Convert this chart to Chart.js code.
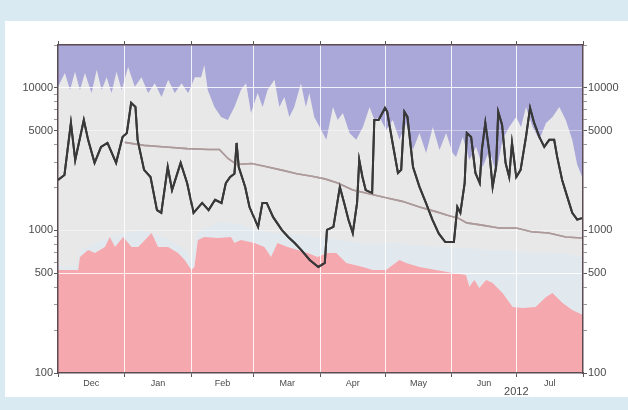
<!DOCTYPE html>
<html>
<head>
<meta charset="utf-8">
<script src="https://cdn.jsdelivr.net/npm/chart.js@4.4.1/dist/chart.umd.min.js"></script>
<style>
  html, body { margin: 0; padding: 0; width: 628px; height: 410px; overflow: hidden; background: #d9eaf3; }
  #panel { position: absolute; left: 5px; top: 21px; width: 623px; height: 376px; background: #ffffff; }
  #wrap { position: absolute; left: 0; top: 0; width: 628px; height: 410px; }
</style>
</head>
<body>
<div id="panel"></div>
<div id="wrap"><canvas id="chart" width="628" height="410"></canvas></div>
<script>
// Time axis: days counted from 1 December 2011
const monthNames = ['Dec', 'Jan', 'Feb', 'Mar', 'Apr', 'May', 'Jun', 'Jul'];
const monthStarts = [0, 31, 62, 91, 122, 152, 183, 213, 244];
const yearLabel = '2012';
const yearTickDay = 213;

// Log value axis
const yLabelled = [100, 500, 1000, 5000, 10000];
const yTicks = [100, 200, 300, 400, 500, 600, 700, 800, 900,
                1000, 2000, 3000, 4000, 5000, 6000, 7000, 8000, 9000,
                10000, 20000];

// Main daily series [day, value]
const seriesMain = [
  [0,2260],[3,2450],[6,5680],[8,3120],[12,5960],[14,4320],[17,2980],[20,3860],[23,4110],[27,2980],
  [30,4530],[32,4830],[34,7850],[36,7360],[37,4320],[40,2660],[43,2370],[46,1390],[48,1330],[51,2790],
  [53,1920],[57,2980],[60,2150],[63,1330],[67,1560],[70,1390],[73,1640],[76,1560],[78,2150],[80,2370],
  [82,2500],[83,4110],[84,2790],[87,2020],[89,1460],[93,1060],[95,1560],[97,1560],[100,1240],[104,1010],
  [107,900],[110,817],[113,730],[117,621],[121,555],[124,592],[125,1010],[128,1060],[131,2020],[133,1560],
  [135,1190],[137,960],[139,1560],[140,3120],[141.5,2370],[143,1920],[146,1830],[147,5960],[149,5960],[152,7240],
  [153,6790],[155.5,4110],[158,2530],[159.5,2660],[161,6790],[162.4,6260],[165,2790],[168,2020],[171,1560],[174,1190],
  [177,950],[180,830],[184,830],[185.6,1460],[187,1330],[189,2150],[190,4830],[192,4530],[194,2530],[196,2150],
  [197,3670],[198.6,5680],[200.5,3500],[202,2020],[203.6,2790],[204.6,6790],[206.4,5500],[208,2980],[209.7,2370],[211,4110],
  [213,2370],[215,2660],[217.5,4530],[219.4,7240],[221.3,5680],[223.7,4530],[226,3860],[228.3,4320],[230.6,4320],[232,3280],
  [234.3,2260],[236.7,1720],[239,1330],[241.3,1190],[243.5,1220]
];

// Running average [day, value]
const seriesAverage = [
  [31,4150],[40,3950],[50,3850],[60,3750],[70,3700],[75,3700],[79,3200],[83,2900],[90,2950],[97,2800],
  [104,2650],[111,2500],[118,2400],[124,2300],[130,2150],[137,1920],[145,1800],[153,1690],[160,1600],[168,1460],
  [176,1350],[181,1280],[186,1220],[190,1130],[197,1090],[205,1040],[213,1040],[220,980],[228,960],[236,900],
  [243.5,886]
];

// Lower band top edge [day, value]
const bandLow = [
  [0,528],[9.4,528],[10.2,652],[14,730],[17.2,695],[21.8,766],[24.1,900],[26.5,766],[30.3,900],[34.2,766],
  [37.3,766],[43.5,960],[46.5,766],[51.2,766],[55.8,695],[58.9,621],[62,528],[63.4,555],[65,858],[68,900],
  [74.2,886],[80.4,900],[82,817],[85,858],[91.3,817],[95.9,766],[99,652],[102,817],[106.7,766],[111.4,730],
  [116,695],[120.6,652],[125.3,695],[129.3,695],[134,592],[141.7,555],[146.3,528],[152.5,528],[158.7,621],[161.8,592],
  [168,555],[175.7,528],[183.4,503],[189.6,487],[191.2,402],[193.5,450],[195.8,395],[199,450],[202,428],[206.6,364],
  [211.3,290],[216,286],[222,290],[226.8,341],[229.8,364],[234.5,310],[239,277],[244,255]
];

// Middle band top edge [day, value]
const bandMid = [
  [0,560],[9,560],[10,720],[20,850],[30,950],[40,1000],[50,880],[58,760],[62,640],[65,980],
  [75,1150],[85,1100],[92,1000],[100,960],[110,940],[120,900],[126,880],[135,840],[145,800],[155,820],
  [165,790],[175,770],[184,760],[192,750],[200,730],[210,720],[220,700],[230,700],[238,680],[244,650]
];

// Upper band top edge [day, value]
const bandHigh = [
  [0,10200],[3.2,12700],[5.6,9680],[7.9,13000],[10.2,9680],[12.5,12700],[15.6,9220],[18,13400],[20.3,9680],[22.6,11900],
  [24.9,9220],[27.2,13000],[29.6,9680],[32.6,14000],[35.7,10200],[38.8,11900],[41.9,9220],[45,10800],[48.1,8650],[51.2,11400],
  [54.3,9220],[57.4,10800],[60.5,9220],[63.6,11900],[66.5,11900],[68,14500],[69.6,9680],[72.7,7360],[75.8,6260],[78.9,5960],
  [82,7360],[85,9680],[87.4,10800],[89.7,6680],[92.8,9220],[95.1,7360],[97.4,9680],[100.6,11400],[102.9,7360],[105.2,8650],
  [107.5,6260],[109.8,7360],[112.9,10800],[115.2,7360],[116.8,9220],[119.1,6260],[121.6,5320],[124.7,4320],[127.8,7360],[130,5960],
  [132.4,6680],[135.5,4830],[138.6,4320],[141.7,5320],[144.8,7360],[147.1,5960],[149.4,6260],[152.5,5070],[155.6,5960],[158.7,4320],
  [161.8,5680],[164.9,3670],[168,4830],[171.1,3500],[174.2,5320],[177.3,3670],[180.4,4830],[183.4,3500],[185,3280],[188.1,4530],
  [191.2,3120],[194.3,3860],[197.4,2790],[200.5,3670],[203.6,2530],[206.6,4320],[209.7,5320],[212.9,6260],[215.2,5320],[217.5,7360],
  [220.6,5320],[223.7,4320],[226.8,5680],[229.8,6260],[233,7360],[236,5960],[239,4320],[241.3,2900],[244,2300]
];

const FONT = 'Liberation Sans, Arial, Helvetica, sans-serif';
const AXIS_LINE = '#5b4b52';
const TICK_MARK = '#5a5a5a';
const LABEL = '#4a4a4a';

const pts = arr => arr.map(([x, y]) => ({ x, y }));

// X ticks: month boundaries (grid + marks) and mid-month positions (names)
const monthMids = monthNames.map((_, i) => (monthStarts[i] + monthStarts[i + 1]) / 2);
const xTicks = [...monthStarts, ...monthMids].sort((a, b) => a - b);
const isBoundary = v => monthStarts.includes(v);

const plotBackground = {
  id: 'plotBackground',
  beforeDraw(chart) {
    const { ctx, chartArea: a } = chart;
    ctx.save();
    ctx.fillStyle = '#aaa7d9';
    ctx.fillRect(a.left, a.top, a.right - a.left, a.bottom - a.top);
    ctx.restore();
  }
};

// Lines are painted again after the grid so the white grid stays under them
const linesOnTop = {
  id: 'linesOnTop',
  afterDraw(chart) {
    const { ctx, chartArea: a } = chart;
    ctx.save();
    ctx.beginPath();
    ctx.rect(a.left, a.top, a.right - a.left, a.bottom - a.top);
    ctx.clip();
    [1, 0].forEach(i => chart.getDatasetMeta(i).controller.draw());
    ctx.restore();
  }
};

const yLabel = v => (yLabelled.includes(v) ? String(v) : '');
const yGridColor = v => {
  if (v === 500 || v === 10000) return 'rgba(255,255,255,0.85)';
  if (v === 1000 || v === 5000) return 'rgba(255,255,255,0.4)';
  return 'transparent';
};

new Chart(document.getElementById('chart'), {
  type: 'line',
  data: {
    datasets: [
      { data: pts(seriesMain), borderColor: '#383838', borderWidth: 2, pointRadius: 0, fill: false, tension: 0, yAxisID: 'y', xAxisID: 'x' },
      { data: pts(seriesAverage), borderColor: '#ad9b9c', borderWidth: 1.6, pointRadius: 0, fill: false, tension: 0, yAxisID: 'y', xAxisID: 'x' },
      { data: pts(bandLow), borderWidth: 0, borderColor: 'transparent', backgroundColor: '#f5a8ae', pointRadius: 0, fill: 'start', yAxisID: 'y', xAxisID: 'x' },
      { data: pts(bandMid), borderWidth: 0, borderColor: 'transparent', backgroundColor: '#e1e9ee', pointRadius: 0, fill: 'start', yAxisID: 'y', xAxisID: 'x' },
      { data: pts(bandHigh), borderWidth: 0, borderColor: 'transparent', backgroundColor: '#e8e8e8', pointRadius: 0, fill: 'start', yAxisID: 'y', xAxisID: 'x' }
    ]
  },
  options: {
    responsive: false,
    animation: false,
    devicePixelRatio: 1,
    layout: { padding: 0 },
    plugins: { legend: { display: false }, tooltip: { enabled: false } },
    scales: {
      x: {
        type: 'linear', position: 'bottom', min: 0, max: 244,
        afterBuildTicks: s => { s.ticks = xTicks.map(v => ({ value: v })); },
        afterFit: s => { s.height = 37; },
        grid: {
          z: 1,
          lineWidth: 1,
          color: c => (c.tick && isBoundary(c.tick.value) && c.tick.value > 0 && c.tick.value < 244 ? 'rgba(255,255,255,0.85)' : 'transparent'),
          tickColor: c => (c.tick && isBoundary(c.tick.value) ? TICK_MARK : 'transparent'),
          tickLength: 4
        },
        border: { display: true, color: AXIS_LINE, width: 1.5, z: 1 },
        ticks: {
          autoSkip: false, maxRotation: 0, padding: 1, color: LABEL,
          callback: v => {
            if (v === yearTickDay) return ['', yearLabel];
            const i = monthMids.indexOf(v);
            return i >= 0 ? monthNames[i] : '';
          },
          font: c => (c.tick && c.tick.value === yearTickDay
            ? { family: FONT, size: 11, lineHeight: 0.85 }
            : { family: FONT, size: 9 })
        }
      },
      xTop: {
        type: 'linear', position: 'top', min: 0, max: 244,
        afterBuildTicks: s => { s.ticks = monthStarts.map(v => ({ value: v })); },
        afterFit: s => { s.height = 45; },
        grid: { drawOnChartArea: false, tickColor: TICK_MARK, tickLength: 4 },
        border: { display: true, color: AXIS_LINE, width: 1.5, z: 1 },
        ticks: { display: false }
      },
      y: {
        type: 'logarithmic', position: 'left', min: 100, max: 20000,
        afterBuildTicks: s => { s.ticks = yTicks.map(v => ({ value: v })); },
        afterFit: s => { s.width = 58; },
        grid: {
          z: 1,
          lineWidth: 1,
          color: c => (c.tick ? yGridColor(c.tick.value) : 'transparent'),
          tickColor: c => (c.tick && yLabelled.includes(c.tick.value) ? TICK_MARK : '#9a9a9a'),
          tickLength: 4
        },
        border: { display: true, color: AXIS_LINE, width: 1.5, z: 1 },
        ticks: { autoSkip: false, padding: 1, color: LABEL, font: { family: FONT, size: 11 }, callback: yLabel }
      },
      yRight: {
        type: 'logarithmic', position: 'right', min: 100, max: 20000,
        afterBuildTicks: s => { s.ticks = yTicks.map(v => ({ value: v })); },
        afterFit: s => { s.width = 45; },
        grid: {
          drawOnChartArea: false,
          tickColor: c => (c.tick && yLabelled.includes(c.tick.value) ? TICK_MARK : '#9a9a9a'),
          tickLength: 4
        },
        border: { display: true, color: AXIS_LINE, width: 1.5, z: 1 },
        ticks: { autoSkip: false, padding: 1, color: LABEL, font: { family: FONT, size: 11 }, callback: yLabel }
      }
    }
  },
  plugins: [plotBackground, linesOnTop]
});
</script>
</body>
</html>
